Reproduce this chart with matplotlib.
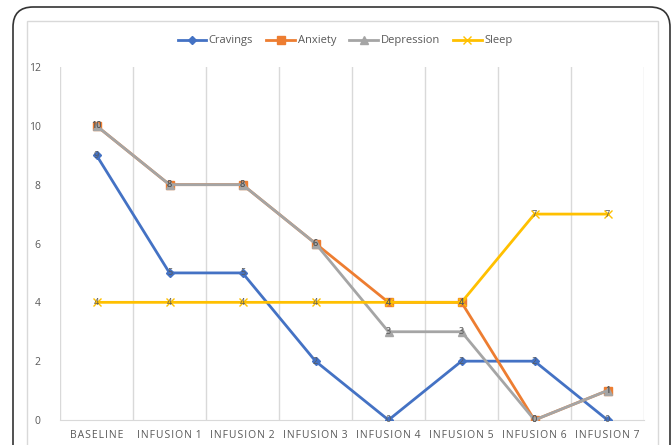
import matplotlib
matplotlib.use('Agg')
import matplotlib.pyplot as plt
from matplotlib.patches import FancyBboxPatch, Rectangle

categories = ['BASELINE', 'INFUSION 1', 'INFUSION 2', 'INFUSION 3',
              'INFUSION 4', 'INFUSION 5', 'INFUSION 6', 'INFUSION 7']
cravings = [9, 5, 5, 2, 0, 2, 2, 0]
anxiety = [10, 8, 8, 6, 4, 4, 0, 1]
depression = [10, 8, 8, 6, 3, 3, 0, 1]
sleep = [4, 4, 4, 4, 4, 4, 7, 7]
y_ticks = [0, 2, 4, 6, 8, 10, 12]

plt.rcParams['font.family'] = ['Open Sans', 'DejaVu Sans']

W, H = 671, 445
fig = plt.figure(figsize=(W / 100, H / 100), dpi=100)

# outer rounded frame and inner light frame
fig.patches.append(FancyBboxPatch((13 / W, -0.1), (670 - 13) / W, (H - 7) / H + 0.1,
                                  boxstyle='round,pad=0,rounding_size=0.03',
                                  transform=fig.transFigure, fill=False,
                                  edgecolor='#333333', linewidth=1.2, mutation_aspect=W / H))
fig.patches.append(Rectangle((27 / W, -0.1), (658 - 27) / W, (H - 21) / H + 0.1,
                             transform=fig.transFigure, fill=False,
                             edgecolor='#d9d9d9', linewidth=1.0))

ax = fig.add_axes([60 / W, 1 - 420 / H, (644 - 60) / W, (420 - 67) / H])
x = list(range(len(categories)))

series = [
    ('Cravings', cravings, '#4472c4', 'D', 4.5),
    ('Anxiety', anxiety, '#ed7d31', 's', 6),
    ('Depression', depression, '#a5a5a5', '^', 6),
    ('Sleep', sleep, '#ffc000', 'x', 6),
]
for name, vals, color, marker, ms in series:
    ax.plot(x, vals, color=color, linewidth=2, marker=marker, markersize=ms,
            markeredgecolor=color, markerfacecolor=color, label=name, zorder=3)
    for xi, v in zip(x, vals):
        ax.text(xi, v, str(v), ha='center', va='center', fontsize=6.5,
                color='#595959', zorder=4)

ax.set_xlim(-0.5, len(categories) - 0.5)
ax.set_ylim(0, 12)
ax.set_yticks(y_ticks)
ax.set_xticks(x)
ax.set_xticklabels(['\u200a'.join(c.replace(' ', '\u2009')) for c in categories])
ax.tick_params(axis='both', length=0, colors='#595959', labelsize=7.5)
ax.tick_params(axis='y', pad=14)
ax.tick_params(axis='x', pad=7)

for b in range(len(categories) + 1):
    ax.axvline(b - 0.5, color='#d9d9d9', linewidth=1, zorder=1)
for s in ['top', 'right', 'left']:
    ax.spines[s].set_visible(False)
ax.spines['bottom'].set_color('#d9d9d9')

fig.legend(loc='center', bbox_to_anchor=(345 / W, 1 - 41 / H), ncol=4, frameon=False,
           fontsize=8, labelcolor='#595959', handlelength=2.6, columnspacing=1.2,
           handletextpad=0.2)

fig.savefig('out.png', dpi=100)
